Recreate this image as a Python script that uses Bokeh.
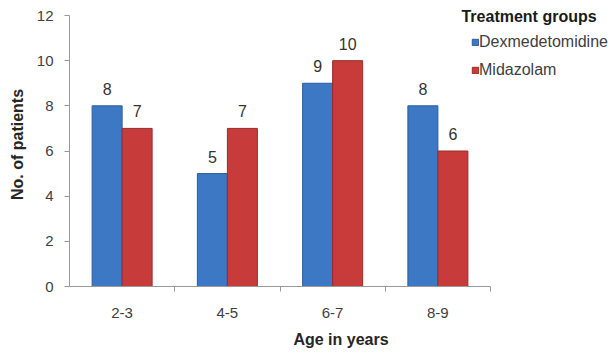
from bokeh.plotting import figure
from bokeh.models import (ColumnDataSource, Range1d, FixedTicker, Legend, LegendItem, Label)
from bokeh.transform import dodge
from bokeh.embed import file_html
from bokeh.resources import INLINE

# Patients per age band, by treatment group
age_groups = ["2-3", "4-5", "6-7", "8-9"]
dexmedetomidine = [8, 5, 9, 8]
midazolam = [7, 7, 10, 6]
series_names = ["Dexmedetomidine", "Midazolam"]
y_ticks = [0, 2, 4, 6, 8, 10, 12]

FONT = "Liberation Sans"
TEXT = "#404040"
AXIS = "#9a9a9a"
BLUE, BLUE_EDGE = "#3c78c4", "#2b5c9c"
RED, RED_EDGE = "#c83b3b", "#9a2a2a"

n = len(age_groups)
centers = [i + 0.5 for i in range(n)]
src = ColumnDataSource(dict(
    x=centers,
    dex=dexmedetomidine,
    mid=midazolam,
    dex_txt=[str(v) for v in dexmedetomidine],
    mid_txt=[str(v) for v in midazolam],
))

# the frame runs past the last band and above the top tick so the legend
# has room; both axes are bounded to the data region
p = figure(width=614, height=358, output_backend="svg", toolbar_location=None,
           x_range=Range1d(0, 5.159), y_range=Range1d(0, 12.576),
           min_border_left=69, min_border_right=2, min_border_top=2,
           min_border_bottom=72)
p.outline_line_color = None
p.xgrid.visible = False
p.ygrid.visible = False
p.background_fill_color = "white"
p.border_fill_color = "white"

bw = 0.285
off = 0.1425
r_dex = p.vbar(x=dodge("x", -off), top="dex", width=bw, source=src,
               fill_color=BLUE, line_color=BLUE_EDGE, line_width=1)
r_mid = p.vbar(x=dodge("x", off), top="mid", width=bw, source=src,
               fill_color=RED, line_color=RED_EDGE, line_width=1)

# value labels above bars
for col, txt, d in (("dex", "dex_txt", -off), ("mid", "mid_txt", off)):
    p.text(x=dodge("x", d), y=col, text=txt, source=src,
           text_align="center", text_baseline="middle", y_offset=-17,
           text_font_size="16px", text_color="#333333", text_font={"value": FONT})

# x axis: labels centred on bands, tick marks on band boundaries
xa = p.xaxis[0]
xa.bounds = (0, n)
xa.ticker = FixedTicker(ticks=centers, minor_ticks=list(range(1, n + 1)))
xa.major_label_overrides = {c: g for c, g in zip(centers, age_groups)}
xa.major_tick_line_color = None
xa.major_tick_out = 0
xa.major_tick_in = 0
xa.minor_tick_line_color = AXIS
xa.minor_tick_out = 5
xa.minor_tick_in = 0
xa.axis_line_color = AXIS
xa.major_label_standoff = 16
xa.major_label_text_font = FONT
xa.major_label_text_font_size = "15px"
xa.major_label_text_color = TEXT
xa.axis_label = "Age in years"
xa.axis_label_text_font = FONT
xa.axis_label_text_font_size = "16px"
xa.axis_label_text_font_style = "bold"
xa.axis_label_text_color = "#262626"
xa.axis_label_standoff = 10

ya = p.yaxis[0]
ya.bounds = (0, 12)
ya.ticker = FixedTicker(ticks=y_ticks, minor_ticks=[])
ya.axis_line_color = AXIS
ya.major_tick_line_color = AXIS
ya.major_tick_out = 5
ya.major_tick_in = 0
ya.minor_tick_line_color = None
ya.major_label_standoff = 11
ya.major_label_text_font = FONT
ya.major_label_text_font_size = "15px"
ya.major_label_text_color = TEXT
ya.axis_label = "No. of patients"
ya.axis_label_text_font = FONT
ya.axis_label_text_font_size = "16px"
ya.axis_label_text_font_style = "bold"
ya.axis_label_text_color = "#262626"
ya.axis_label_standoff = 8

legend = Legend(items=[LegendItem(label=series_names[0], renderers=[r_dex]),
                       LegendItem(label=series_names[1], renderers=[r_mid])],
                location=(402, 206), padding=0, margin=0, spacing=8,
                glyph_width=8, glyph_height=8, label_height=20, label_standoff=0,
                label_text_font=FONT, label_text_font_size="16px",
                label_text_color=TEXT, border_line_color=None,
                background_fill_alpha=0)
p.add_layout(legend, "center")

p.add_layout(Label(x=3.724, y=11.956, text="Treatment groups", text_font=FONT,
                   text_font_size="16px", text_font_style="bold",
                   text_color="#1a1a1a", text_baseline="middle"))

open("out.html", "w").write(file_html(p, INLINE))
